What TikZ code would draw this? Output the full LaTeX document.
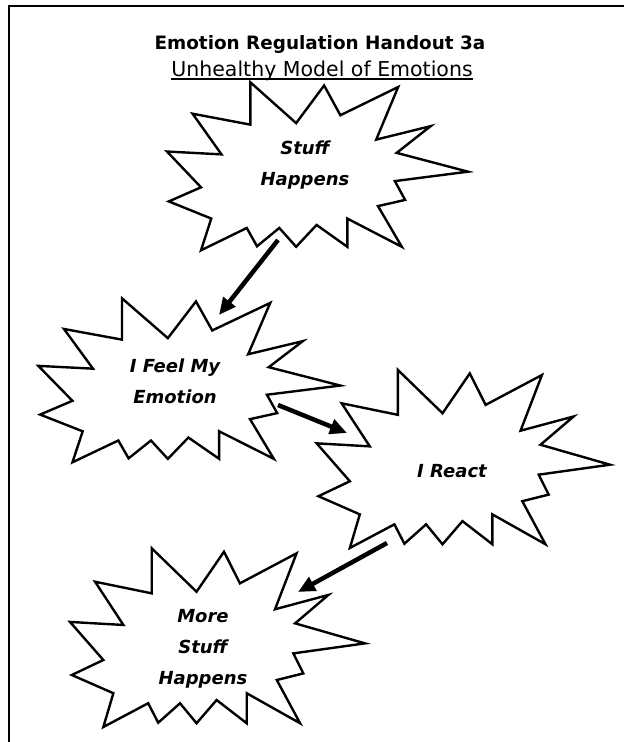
\documentclass[tikz,border=0pt]{standalone}
\usepackage{fontspec}
\setmainfont{DejaVu Sans}
\usetikzlibrary{arrows.meta}
\begin{document}
\begin{tikzpicture}[x=1pt,y=-1pt,
  burstline/.style={line width=2.4pt, line join=miter},
  btext/.style={font=\fontsize{18}{31}\selectfont\bfseries\itshape, align=center, inner sep=0pt},
  arr/.style={line width=4.5pt, -{Triangle[length=17pt,width=15pt]}},
  burst/.pic={\draw[burstline] (0.277,0) -- (0.429,0.243) -- (0.522,0.019) -- (0.576,0.196)
     -- (0.768,0.028) -- (0.695,0.341) -- (0.876,0.261) -- (0.763,0.420) -- (1,0.532)
     -- (0.757,0.588) -- (0.791,0.700) -- (0.701,0.737) -- (0.780,0.979) -- (0.599,0.811)
     -- (0.599,0.979) -- (0.497,0.849) -- (0.429,0.979) -- (0.373,0.867) -- (0.299,0.976)
     -- (0.265,0.867) -- (0.113,1) -- (0.147,0.811) -- (0.006,0.709) -- (0.113,0.625)
     -- (0,0.412) -- (0.181,0.429) -- (0.085,0.187) -- (0.277,0.252) -- cycle;}
]
\useasboundingbox (0,0) rectangle (624,742);
\fill[white] (0,0) rectangle (624,742);
% page border
\draw[line width=2.3pt] (9,742) -- (9,6.2) -- (624,6.2);
% titles
\node[font=\fontsize{18.4}{22}\selectfont\bfseries, anchor=base, inner sep=0pt] (title) at (320,49) {Emotion Regulation Handout 3a};
\node[font=\fontsize{20.5}{24}\selectfont, anchor=base, inner sep=0pt] (sub) at (322,76) {Unhealthy Model of Emotions};
\draw[line width=1.4pt] ([yshift=-3pt]sub.base west) -- ([yshift=-3pt]sub.base east);
% bursts
\pic[xscale=301,yscale=168] at (167,82.3) {burst};
\pic[xscale=302,yscale=164] at (38.3,298.3) {burst};
\pic[xscale=293.3,yscale=178] at (316.7,370) {burst};
\pic[xscale=295,yscale=178.7] at (70,548.3) {burst};
% texts
\node[btext] (t1) at (305,165) {Stuff\\Happens};
\node[btext] (t2) at (175,381) {I Feel My\\Emotion};
\node[btext] (t3) at (452,471) {I React};
\node[btext] (t4) at (203,649) {More\\Stuff\\Happens};
% arrows
\coordinate (a1s) at (278,240);
\coordinate (a1e) at (219,315);
\coordinate (a2s) at (278,405);
\coordinate (a2e) at (347,433);
\coordinate (a3s) at (387,543);
\coordinate (a3e) at (298,592);
\draw[arr] (a1s) -- (a1e);
\draw[arr] (a2s) -- (a2e);
\draw[arr] (a3s) -- (a3e);
\end{tikzpicture}
\end{document}
